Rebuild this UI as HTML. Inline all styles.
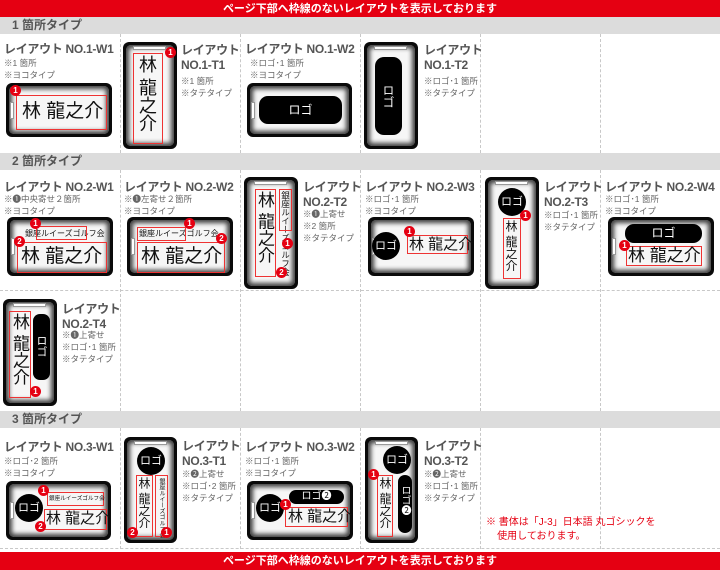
<!DOCTYPE html>
<html><head><meta charset="utf-8">
<style>
*{margin:0;padding:0;box-sizing:border-box}
body{width:720px;height:570px;position:relative;overflow:hidden;background:#fff;font-family:"Liberation Sans","Noto Sans CJK JP",sans-serif}
div,span{position:absolute}
.bar{left:0;width:720px;height:18px;background:#e50012;color:#fff;font-size:11px;font-weight:bold;text-align:center;line-height:18px}
.hd{left:0;width:720px;height:17px;background:#dcdcdc;color:#555;font-size:12px;font-weight:bold;line-height:17px;padding-left:12px}
.vl{width:0;border-left:1px dashed #c8c8c8}
.hl{left:0;width:720px;height:0;border-top:1px dashed #c8c8c8}
.t{font-size:12px;letter-spacing:-0.3px;font-weight:bold;color:#555;white-space:nowrap;line-height:15px}
.n{font-size:8.5px;color:#666;white-space:nowrap;line-height:12px}
.c{background:#0a0a0a;border-radius:6px}
.c .in{left:3px;top:3px;right:3px;bottom:3px;border-radius:5px;background:#f6f6f6;box-shadow:inset 0 0 5px 3px rgba(0,0,0,.75)}
.sl{background:#fff;border:1px solid #999}
.rb{border:1.5px solid #e33;}
.nm{font-size:19px;color:#111;white-space:nowrap;line-height:1}
.v{writing-mode:vertical-rl;white-space:nowrap;color:#111;line-height:1}
.b{width:11px;height:11px;border-radius:50%;background:#e50012;color:#fff;font-size:8px;font-weight:bold;text-align:center;line-height:11px;z-index:3}
.lg{background:#000;color:#fff;text-align:center;font-size:12px}
.o{border-radius:50%}
</style></head><body>
<div class="bar" style="top:0px">ページ下部へ枠線のないレイアウトを表示しております</div>
<div class="bar" style="top:552px">ページ下部へ枠線のないレイアウトを表示しております</div>
<div class="hd" style="top:17px">1 箇所タイプ</div>
<div class="hd" style="top:153px">2 箇所タイプ</div>
<div class="hd" style="top:411px">3 箇所タイプ</div>

<div class="vl" style="left:120px;top:34px;height:119px"></div>
<div class="vl" style="left:240px;top:34px;height:119px"></div>
<div class="vl" style="left:360px;top:34px;height:119px"></div>
<div class="vl" style="left:480px;top:34px;height:119px"></div>
<div class="vl" style="left:600px;top:34px;height:119px"></div>
<div class="vl" style="left:120px;top:170px;height:241px"></div>
<div class="vl" style="left:240px;top:170px;height:241px"></div>
<div class="vl" style="left:360px;top:170px;height:241px"></div>
<div class="vl" style="left:480px;top:170px;height:241px"></div>
<div class="vl" style="left:600px;top:170px;height:241px"></div>
<div class="vl" style="left:120px;top:428px;height:121px"></div>
<div class="vl" style="left:240px;top:428px;height:121px"></div>
<div class="vl" style="left:360px;top:428px;height:121px"></div>
<div class="vl" style="left:480px;top:428px;height:121px"></div>
<div class="vl" style="left:600px;top:428px;height:121px"></div>
<div class="hl" style="top:290px"></div>
<div class="hl" style="top:548px"></div>

<!-- ROW 1 -->
<div class="t" style="left:4px;top:42px">レイアウト NO.1-W1</div>
<div class="n" style="left:4px;top:57px">※1 箇所<br>※ヨコタイプ</div>
<div class="c" style="left:6px;top:83px;width:106px;height:54px"><div class="in"></div><div class="sl" style="left:4px;top:19px;width:4px;height:17px"></div></div>
<div class="rb" style="left:16px;top:95px;width:91px;height:35px"></div>
<div class="nm" style="left:22px;top:102px">林 龍之介</div>
<div class="b" style="left:10px;top:85px">1</div>

<div class="c" style="left:123px;top:42px;width:54px;height:107px"><div class="in"></div><div class="sl" style="left:10px;top:4px;width:33px;height:4px"></div></div>
<div class="rb" style="left:133px;top:53px;width:30px;height:91px"></div>
<div class="v" style="left:138px;top:55px;font-size:18px">林 龍之介</div>
<div class="b" style="left:165px;top:47px">1</div>
<div class="t" style="left:181px;top:43px">レイアウト<br>NO.1-T1</div>
<div class="n" style="left:181px;top:75px">※1 箇所<br>※タテタイプ</div>

<div class="t" style="left:245px;top:42px">レイアウト NO.1-W2</div>
<div class="n" style="left:250px;top:57px">※ロゴ･1 箇所<br>※ヨコタイプ</div>
<div class="c" style="left:247px;top:83px;width:105px;height:54px"><div class="in"></div><div class="sl" style="left:4px;top:19px;width:4px;height:17px"></div></div>
<div class="lg" style="left:259px;top:96px;width:83px;height:28px;border-radius:9px;line-height:28px">ロゴ</div>

<div class="c" style="left:364px;top:42px;width:54px;height:107px"><div class="in"></div><div class="sl" style="left:10px;top:4px;width:33px;height:4px"></div></div>
<div class="lg" style="left:375px;top:57px;width:27px;height:78px;border-radius:9px"><span class="v" style="left:7px;top:27px;color:#fff;font-size:12px">ロゴ</span></div>
<div class="t" style="left:424px;top:43px">レイアウト<br>NO.1-T2</div>
<div class="n" style="left:424px;top:75px">※ロゴ･1 箇所<br>※タテタイプ</div>

<!-- ROW 2 -->
<div class="t" style="left:4px;top:180px">レイアウト NO.2-W1</div>
<div class="n" style="left:4px;top:193px">※❶中央寄せ２箇所<br>※ヨコタイプ</div>
<div class="c" style="left:7px;top:217px;width:106px;height:59px"><div class="in"></div><div class="sl" style="left:4px;top:21px;width:4px;height:17px"></div></div>
<div class="n" style="left:25px;top:228px;font-size:8px;color:#111">銀座ルイーズゴルフ会</div>
<div class="rb" style="left:36px;top:226px;width:51px;height:14px"></div>
<div class="rb" style="left:17px;top:242px;width:90px;height:31px"></div>
<div class="nm" style="left:21px;top:247px">林 龍之介</div>
<div class="b" style="left:30px;top:218px">1</div>
<div class="b" style="left:14px;top:236px">2</div>

<div class="t" style="left:124px;top:180px">レイアウト NO.2-W2</div>
<div class="n" style="left:124px;top:193px">※❶左寄せ２箇所<br>※ヨコタイプ</div>
<div class="c" style="left:127px;top:217px;width:106px;height:59px"><div class="in"></div><div class="sl" style="left:4px;top:21px;width:4px;height:17px"></div></div>
<div class="n" style="left:139px;top:228px;font-size:8px;color:#111">銀座ルイーズゴルフ会</div>
<div class="rb" style="left:137px;top:227px;width:49px;height:14px"></div>
<div class="rb" style="left:137px;top:242px;width:88px;height:31px"></div>
<div class="nm" style="left:141px;top:247px">林 龍之介</div>
<div class="b" style="left:184px;top:218px">1</div>
<div class="b" style="left:216px;top:233px">2</div>

<div class="c" style="left:244px;top:177px;width:54px;height:112px"><div class="in"></div><div class="sl" style="left:10px;top:4px;width:33px;height:4px"></div></div>
<div class="rb" style="left:255px;top:189px;width:21px;height:88px"></div>
<div class="v" style="left:256px;top:191px;font-size:17px">林 龍之介</div>
<div class="v" style="left:281px;top:191px;font-size:8.5px">銀座ルイーズゴルフ会</div>
<div class="rb" style="left:279px;top:189px;width:13px;height:42px"></div>
<div class="b" style="left:282px;top:238px">1</div>
<div class="b" style="left:276px;top:267px">2</div>
<div class="t" style="left:303px;top:180px">レイアウト<br>NO.2-T2</div>
<div class="n" style="left:303px;top:208px">※❶上寄せ<br>※2 箇所<br>※タテタイプ</div>

<div class="t" style="left:365px;top:180px">レイアウト NO.2-W3</div>
<div class="n" style="left:365px;top:193px">※ロゴ･1 箇所<br>※ヨコタイプ</div>
<div class="c" style="left:368px;top:217px;width:106px;height:59px"><div class="in"></div><div class="sl" style="left:4px;top:21px;width:4px;height:17px"></div></div>
<div class="lg o" style="left:372px;top:232px;width:28px;height:28px;line-height:28px;font-size:11px">ロゴ</div>
<div class="rb" style="left:407px;top:235px;width:61px;height:19px"></div>
<div class="nm" style="left:409px;top:237px;font-size:15px">林 龍之介</div>
<div class="b" style="left:404px;top:226px">1</div>

<div class="c" style="left:485px;top:177px;width:54px;height:112px"><div class="in"></div><div class="sl" style="left:10px;top:4px;width:33px;height:4px"></div></div>
<div class="lg o" style="left:498px;top:188px;width:28px;height:28px;line-height:28px;font-size:11px">ロゴ</div>
<div class="rb" style="left:503px;top:218px;width:18px;height:61px"></div>
<div class="v" style="left:505px;top:220px;font-size:12px">林 龍之介</div>
<div class="b" style="left:520px;top:210px">1</div>
<div class="t" style="left:544px;top:180px">レイアウト<br>NO.2-T3</div>
<div class="n" style="left:544px;top:209px">※ロゴ･1 箇所<br>※タテタイプ</div>

<div class="t" style="left:605px;top:180px">レイアウト NO.2-W4</div>
<div class="n" style="left:605px;top:193px">※ロゴ･1 箇所<br>※ヨコタイプ</div>
<div class="c" style="left:608px;top:217px;width:106px;height:59px"><div class="in"></div><div class="sl" style="left:4px;top:21px;width:4px;height:17px"></div></div>
<div class="lg" style="left:625px;top:224px;width:77px;height:19px;border-radius:9px;line-height:19px">ロゴ</div>
<div class="rb" style="left:626px;top:246px;width:76px;height:20px"></div>
<div class="nm" style="left:628px;top:247px;font-size:17px">林 龍之介</div>
<div class="b" style="left:619px;top:240px">1</div>

<!-- ROW 3 -->
<div class="c" style="left:3px;top:299px;width:54px;height:107px"><div class="in"></div><div class="sl" style="left:10px;top:4px;width:33px;height:4px"></div></div>
<div class="rb" style="left:9px;top:311px;width:22px;height:87px"></div>
<div class="v" style="left:11px;top:313px;font-size:17px">林 龍之介</div>
<div class="lg" style="left:33px;top:314px;width:17px;height:66px;border-radius:7px"><span class="v" style="left:2px;top:21px;color:#fff;font-size:11px">ロゴ</span></div>
<div class="b" style="left:30px;top:386px">1</div>
<div class="t" style="left:62px;top:302px">レイアウト<br>NO.2-T4</div>
<div class="n" style="left:62px;top:329px">※❶上寄せ<br>※ロゴ･1 箇所<br>※タテタイプ</div>

<!-- ROW 4 -->
<div class="t" style="left:4px;top:440px">レイアウト NO.3-W1</div>
<div class="n" style="left:4px;top:455px">※ロゴ･2 箇所<br>※ヨコタイプ</div>
<div class="c" style="left:6px;top:481px;width:105px;height:59px"><div class="in"></div><div class="sl" style="left:4px;top:21px;width:4px;height:17px"></div></div>
<div class="lg o" style="left:15px;top:494px;width:28px;height:28px;line-height:28px;font-size:11px">ロゴ</div>
<div class="rb" style="left:47px;top:492px;width:57px;height:14px"></div>
<div class="n" style="left:49px;top:494px;font-size:5.6px;color:#111;line-height:10px">銀座ルイーズゴルフ会</div>
<div class="rb" style="left:44px;top:509px;width:63px;height:21px"></div>
<div class="nm" style="left:46px;top:511px;font-size:15px">林 龍之介</div>
<div class="b" style="left:38px;top:485px">1</div>
<div class="b" style="left:35px;top:521px">2</div>

<div class="c" style="left:124px;top:437px;width:53px;height:106px"><div class="in"></div><div class="sl" style="left:10px;top:4px;width:33px;height:4px"></div></div>
<div class="lg o" style="left:137px;top:447px;width:28px;height:28px;line-height:28px;font-size:11px">ロゴ</div>
<div class="rb" style="left:136px;top:475px;width:17px;height:62px"></div>
<div class="v" style="left:138px;top:477px;font-size:12px">林 龍之介</div>
<div class="rb" style="left:155px;top:475px;width:13px;height:62px"></div>
<div class="v" style="left:158px;top:478px;font-size:6px">銀座ルイーズゴルフ会</div>
<div class="b" style="left:127px;top:527px">2</div>
<div class="b" style="left:161px;top:527px">1</div>
<div class="t" style="left:182px;top:439px">レイアウト<br>NO.3-T1</div>
<div class="n" style="left:182px;top:468px">※❷上寄せ<br>※ロゴ･2 箇所<br>※タテタイプ</div>

<div class="t" style="left:245px;top:440px">レイアウト NO.3-W2</div>
<div class="n" style="left:245px;top:455px">※ロゴ･1 箇所<br>※ヨコタイプ</div>
<div class="c" style="left:247px;top:481px;width:106px;height:59px"><div class="in"></div><div class="sl" style="left:4px;top:21px;width:4px;height:17px"></div></div>
<div class="lg o" style="left:256px;top:494px;width:28px;height:28px;line-height:28px;font-size:11px">ロゴ</div>
<div class="lg" style="left:289px;top:490px;width:55px;height:14px;border-radius:7px;line-height:14px;font-size:10px">ロゴ❷</div>
<div class="rb" style="left:285px;top:507px;width:63px;height:20px"></div>
<div class="nm" style="left:288px;top:509px;font-size:15px">林 龍之介</div>
<div class="b" style="left:280px;top:499px">1</div>

<div class="c" style="left:365px;top:437px;width:53px;height:106px"><div class="in"></div><div class="sl" style="left:10px;top:4px;width:33px;height:4px"></div></div>
<div class="lg o" style="left:383px;top:446px;width:28px;height:28px;line-height:28px;font-size:11px">ロゴ</div>
<div class="rb" style="left:377px;top:475px;width:16px;height:62px"></div>
<div class="v" style="left:379px;top:477px;font-size:12px">林 龍之介</div>
<div class="lg" style="left:398px;top:475px;width:14px;height:58px;border-radius:7px"><span class="v" style="left:1px;top:10px;color:#fff;font-size:10px">ロゴ❷</span></div>
<div class="b" style="left:368px;top:469px">1</div>
<div class="t" style="left:424px;top:439px">レイアウト<br>NO.3-T2</div>
<div class="n" style="left:424px;top:468px">※❷上寄せ<br>※ロゴ･1 箇所<br>※タテタイプ</div>

<div style="left:486px;top:516px;font-size:10px;color:#e50012;line-height:14px;white-space:nowrap">※ 書体は「J-3」日本語 丸ゴシックを<br>&nbsp;&nbsp;&nbsp;&nbsp;使用しております。</div>
</body></html>
